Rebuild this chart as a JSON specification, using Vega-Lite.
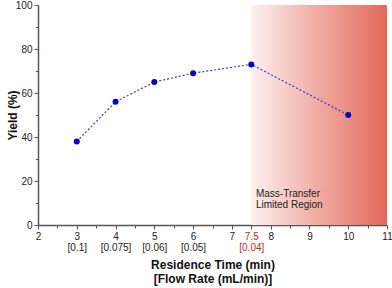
{
  "$schema": "https://vega.github.io/schema/vega-lite/v6.json",
  "width": 349,
  "height": 220,
  "autosize": {"type": "none"},
  "padding": {"left": 38, "top": 5, "right": 5, "bottom": 63},
  "background": "white",
  "config": {
    "view": {"stroke": null},
    "font": "Liberation Sans",
    "axis": {"labelFont": "Liberation Sans", "titleFont": "Liberation Sans", "grid": false, "domainColor": "#555", "domainWidth": 1.5, "tickColor": "#555", "labelColor": "#222", "labelFontSize": 10, "titleFontSize": 12, "titleFontWeight": "bold", "titleColor": "#111", "labelOverlap": false, "labelFlush": false, "labelBound": false}
  },
  "resolve": {"axis": {"x": "independent", "y": "independent"}},
  "datasets": {
    "pts": [
      {"time": 3, "yield": 38},
      {"time": 4, "yield": 56},
      {"time": 5, "yield": 65},
      {"time": 6, "yield": 69},
      {"time": 7.5, "yield": 73},
      {"time": 10, "yield": 50}
    ],
    "region": [{"x1": 7.5, "x2": 11, "y1": 0, "y2": 100, "label": "Mass-Transfer\nLimited Region", "lx": 7.62, "ly": 12}]
  },
  "layer": [
    {
      "data": {"name": "region"},
      "mark": {"type": "rect", "fill": {"gradient": "linear", "x1": 0, "y1": 0, "x2": 1, "y2": 0, "stops": [{"offset": 0, "color": "#fdf0ee"}, {"offset": 0.5, "color": "#f0aaa1"}, {"offset": 1, "color": "#e3685a"}]}},
      "encoding": {
        "x": {"field": "x1", "type": "quantitative", "scale": {"domain": [2, 11], "nice": false, "zero": false},
          "axis": {"orient": "bottom", "values": [2, 3, 4, 5, 6, 7, 7.5, 8, 9, 10, 11], "tickCount": 30, "format": "~g", "tickSize": 4, "labelPadding": 2, "labelOverlap": false, "labelFlush": false, "labelLineHeight": 11.5,
            "labelExpr": "datum.value == 3 ? ['3','[0.1]'] : datum.value == 4 ? ['4','[0.075]'] : datum.value == 5 ? ['5','[0.06]'] : datum.value == 6 ? ['6','[0.05]'] : datum.value == 7.5 ? ['7.5','[0.04]'] : datum.label",
            "labelColor": {"condition": {"test": "datum.value == 7.5", "value": "#c0282a"}, "value": "#222"},
            "title": ["Residence Time (min)", "[Flow Rate (mL/min)]"], "titlePadding": 7, "titleLineHeight": 14}},
        "x2": {"field": "x2"},
        "y": {"field": "y1", "type": "quantitative", "scale": {"domain": [0, 100], "nice": false},
          "axis": {"orient": "left", "values": [0, 20, 40, 60, 80, 100], "tickCount": 30, "tickSize": 4, "labelPadding": 2, "title": "Yield (%)", "titleX": -26, "titleY": 110, "titleAngle": -90, "titleAlign": "center", "titleBaseline": "middle"}},
        "y2": {"field": "y2"}
      }
    },
    {
      "data": {"name": "region"},
      "mark": {"type": "point", "opacity": 0},
      "encoding": {
        "x": {"field": "x1", "type": "quantitative",
          "axis": {"orient": "bottom", "values": [2.5, 3.5, 4.5, 5.5, 6.5, 8.5, 9.5, 10.5], "tickCount": 30, "tickSize": 3, "labels": false, "domain": false, "title": null}},
        "y": {"field": "y1", "type": "quantitative",
          "axis": {"orient": "left", "values": [10, 30, 50, 70, 90], "tickCount": 30, "tickSize": 2.5, "labels": false, "domain": false, "title": null}}
      }
    },
    {
      "data": {"name": "region"},
      "mark": {"type": "text", "align": "left", "baseline": "bottom", "fontSize": 10, "color": "#222", "lineHeight": 11.5, "lineBreak": "\n"},
      "encoding": {
        "x": {"field": "lx", "type": "quantitative", "axis": null},
        "y": {"field": "ly", "type": "quantitative", "axis": null},
        "text": {"field": "label"}
      }
    },
    {
      "data": {"name": "pts"},
      "mark": {"type": "line", "color": "#3a3ad0", "strokeWidth": 1.2, "strokeDash": [2, 2]},
      "encoding": {
        "x": {"field": "time", "type": "quantitative", "axis": null},
        "y": {"field": "yield", "type": "quantitative", "axis": null}
      }
    },
    {
      "data": {"name": "pts"},
      "mark": {"type": "point", "filled": true, "color": "#0000c8", "size": 36, "opacity": 1},
      "encoding": {
        "x": {"field": "time", "type": "quantitative", "axis": null},
        "y": {"field": "yield", "type": "quantitative", "axis": null}
      }
    }
  ]
}
